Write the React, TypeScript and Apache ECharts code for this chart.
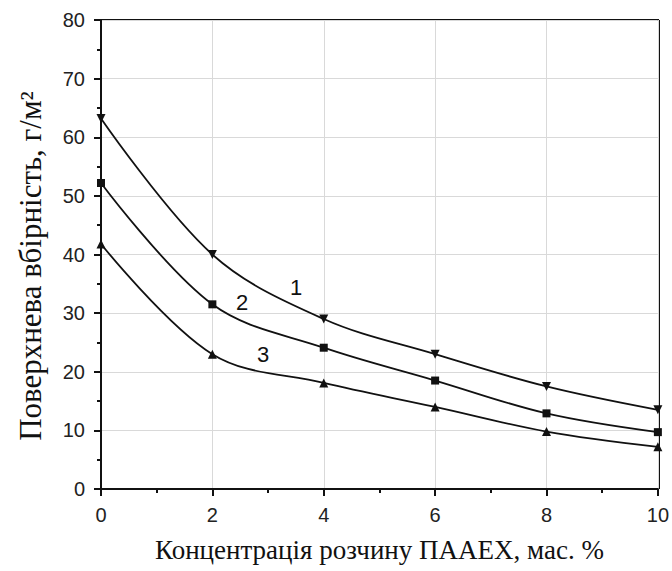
import React, { useEffect, useRef } from "react";
import * as echarts from "echarts";

const xValues = [0, 2, 4, 6, 8, 10];
const series1 = [63.2, 40.0, 29.0, 23.0, 17.5, 13.5];
const series2 = [52.2, 31.5, 24.1, 18.5, 12.9, 9.7];
const series3 = [41.8, 23.0, 18.1, 14.0, 9.8, 7.2];
const seriesNames = ["1", "2", "3"];
const xTitle = "Концентрація розчину ПААЕХ, мас. %";
const yTitle = "Поверхнева вбірність, г/м²";

export default function App() {
  const ref = useRef<HTMLDivElement>(null);
  useEffect(() => {
    if (!ref.current) return;
    const chart = echarts.init(ref.current, undefined, { renderer: "svg" });
    const mk = (vals: number[]) => xValues.map((x, i) => [x, vals[i]]);
    const lineStyle = { color: "#111", width: 1.8 };
    const itemStyle = { color: "#111" };
    const labelStyle = { fontFamily: "Liberation Sans", fontSize: 22, fill: "#111", align: "center", verticalAlign: "middle" };
    chart.setOption({
      animation: false,
      backgroundColor: "#fff",
      grid: { left: 101, right: 13, top: 20, bottom: 82, show: false },
      xAxis: {
        type: "value",
        min: 0,
        max: 10,
        interval: 2,
        name: xTitle,
        nameLocation: "middle",
        nameGap: 47,
        nameTextStyle: { fontFamily: "Liberation Serif", fontSize: 27, color: "#111" },
        axisLine: { show: true, lineStyle: { color: "#111", width: 2 } },
        axisTick: { show: true, inside: false, length: 7, lineStyle: { color: "#111", width: 2 } },
        minorTick: { show: true, splitNumber: 2, length: 4, lineStyle: { color: "#111", width: 2 } },
        axisLabel: { fontFamily: "Liberation Sans", fontSize: 20, color: "#222", margin: 16 },
        splitLine: { show: true, lineStyle: { color: "#d9d9d9", width: 1 } },
      },
      yAxis: {
        type: "value",
        min: 0,
        max: 80,
        interval: 10,
        axisLine: { show: true, lineStyle: { color: "#111", width: 2 } },
        axisTick: { show: true, inside: false, length: 7, lineStyle: { color: "#111", width: 2 } },
        minorTick: { show: true, splitNumber: 2, length: 4, lineStyle: { color: "#111", width: 2 } },
        axisLabel: { fontFamily: "Liberation Sans", fontSize: 20, color: "#222", margin: 16 },
        splitLine: { show: true, lineStyle: { color: "#d9d9d9", width: 1 } },
      },
      series: [
        {
          name: seriesNames[0],
          type: "line",
          data: mk(series1),
          smooth: 0.35,
          symbol: "triangle",
          symbolRotate: 180,
          symbolSize: 9,
          lineStyle,
          itemStyle,
        },
        {
          name: seriesNames[1],
          type: "line",
          data: mk(series2),
          smooth: 0.35,
          symbol: "rect",
          symbolSize: 8,
          lineStyle,
          itemStyle,
        },
        {
          name: seriesNames[2],
          type: "line",
          data: mk(series3),
          smooth: 0.35,
          symbol: "triangle",
          symbolSize: 9,
          lineStyle,
          itemStyle,
        },
      ],
      graphic: [
        {
          type: "line",
          shape: { x1: 101, y1: 20, x2: 659, y2: 20 },
          style: { stroke: "#111", lineWidth: 2 },
        },
        {
          type: "line",
          shape: { x1: 659, y1: 20, x2: 659, y2: 489 },
          style: { stroke: "#111", lineWidth: 2 },
        },
        {
          type: "text",
          x: 30,
          y: 266,
          rotation: Math.PI / 2,
          style: { text: yTitle, fontFamily: "Liberation Serif", fontSize: 31, fill: "#111", align: "center", verticalAlign: "middle" },
        },
        { type: "text", x: 296, y: 287, style: { ...labelStyle, text: seriesNames[0] } },
        { type: "text", x: 242, y: 302, style: { ...labelStyle, text: seriesNames[1] } },
        { type: "text", x: 263, y: 354, style: { ...labelStyle, text: seriesNames[2] } },
      ],
    });
    return () => chart.dispose();
  }, []);
  return <div ref={ref} style={{ width: 672, height: 571, position: "absolute", left: 0, top: 0 }} />;
}
